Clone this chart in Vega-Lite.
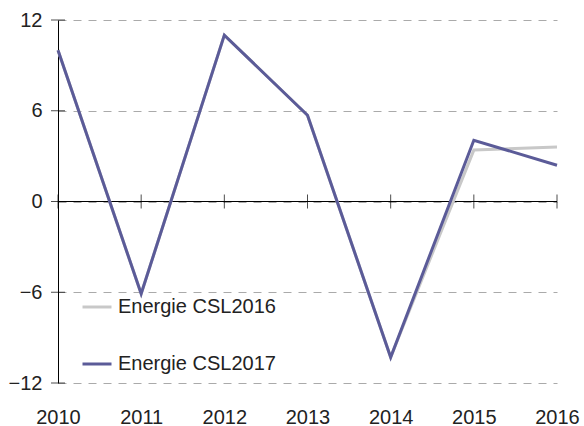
{
  "$schema": "https://vega.github.io/schema/vega-lite/v6.json",
  "width": 499,
  "height": 363,
  "autosize": {"type": "none"},
  "padding": {"left": 58, "top": 20, "right": 27, "bottom": 43},
  "background": "white",
  "config": {
    "view": {"stroke": null},
    "font": "Liberation Sans"
  },
  "datasets": {
    "series": [
      {"year": 2010, "series": "Energie CSL2016", "value": 10.0},
      {"year": 2011, "series": "Energie CSL2016", "value": -6.1},
      {"year": 2012, "series": "Energie CSL2016", "value": 11.0},
      {"year": 2013, "series": "Energie CSL2016", "value": 5.7},
      {"year": 2014, "series": "Energie CSL2016", "value": -10.3},
      {"year": 2015, "series": "Energie CSL2016", "value": 3.4},
      {"year": 2016, "series": "Energie CSL2016", "value": 3.6},
      {"year": 2010, "series": "Energie CSL2017", "value": 10.0},
      {"year": 2011, "series": "Energie CSL2017", "value": -6.1},
      {"year": 2012, "series": "Energie CSL2017", "value": 11.0},
      {"year": 2013, "series": "Energie CSL2017", "value": 5.7},
      {"year": 2014, "series": "Energie CSL2017", "value": -10.3},
      {"year": 2015, "series": "Energie CSL2017", "value": 4.05},
      {"year": 2016, "series": "Energie CSL2017", "value": 2.4}
    ],
    "xticks": [
      {"year": 2010}, {"year": 2011}, {"year": 2012}, {"year": 2013},
      {"year": 2014}, {"year": 2015}, {"year": 2016}
    ],
    "yticks": [
      {"v": -12}, {"v": -6}, {"v": 0}, {"v": 6}, {"v": 12}
    ]
  },
  "layer": [
    {
      "data": {"name": "xticks"},
      "mark": {"type": "rule", "color": "#000000", "strokeWidth": 1},
      "encoding": {
        "x": {"field": "year", "type": "quantitative", "aggregate": "min", "scale": {"domain": [2010, 2016]},
          "axis": {
            "values": [2010, 2011, 2012, 2013, 2014, 2015, 2016],
            "format": "d",
            "title": null,
            "domain": false,
            "ticks": false,
            "tickSize": 0,
            "grid": false,
            "labelFontSize": 20,
            "labelColor": "#222222",
            "labelPadding": 24,
            "labelFlush": false
          }},
        "x2": {"field": "year", "aggregate": "max"},
        "y": {"datum": 0, "type": "quantitative", "scale": {"domain": [-12, 12]},
          "axis": {
            "values": [-12, -6, 0, 6, 12],
            "title": null,
            "domain": true,
            "domainColor": "#000000",
            "domainWidth": 1,
            "ticks": false,
            "tickSize": 0,
            "grid": true,
            "gridColor": "#aaaaaa",
            "gridDash": [8, 7],
            "gridWidth": 1,
            "labelFontSize": 20,
            "labelColor": "#222222",
            "labelPadding": 16
          }}
      }
    },
    {
      "data": {"name": "xticks"},
      "mark": {"type": "tick", "orient": "vertical", "color": "#000000", "thickness": 1, "size": 14},
      "encoding": {
        "x": {"field": "year", "type": "quantitative"},
        "y": {"datum": 0, "type": "quantitative"}
      }
    },
    {
      "data": {"name": "yticks"},
      "mark": {"type": "tick", "orient": "horizontal", "color": "#000000", "thickness": 1, "size": 14},
      "encoding": {
        "x": {"datum": 2010, "type": "quantitative"},
        "y": {"field": "v", "type": "quantitative"}
      }
    },
    {
      "data": {"name": "series"},
      "mark": {"type": "line", "strokeWidth": 3},
      "encoding": {
        "x": {"field": "year", "type": "quantitative"},
        "y": {"field": "value", "type": "quantitative"},
        "color": {
          "field": "series",
          "type": "nominal",
          "scale": {"domain": ["Energie CSL2016", "Energie CSL2017"], "range": ["#c8c8c8", "#5b5b98"]},
          "legend": {
            "title": null,
            "orient": "none",
            "legendX": 3,
            "legendY": 251,
            "padding": 20,
            "symbolType": "stroke",
            "symbolSize": 841,
            "symbolStrokeWidth": 3,
            "labelFontSize": 20,
            "labelColor": "#222222",
            "labelOffset": 5,
            "rowPadding": 31
          }
        }
      }
    }
  ]
}
